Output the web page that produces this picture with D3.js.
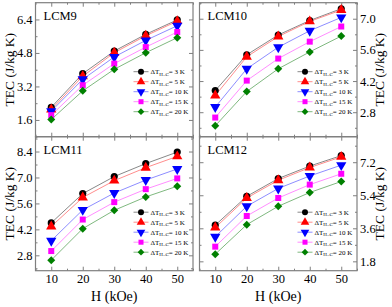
<!DOCTYPE html>
<html>
<head>
<meta charset="utf-8">
<script src="https://cdn.jsdelivr.net/npm/d3@7"></script>
<style>
  body { margin: 0; background: #fff; }
  text { font-family: "Liberation Serif", "Times New Roman", serif; fill: #000; }
</style>
</head>
<body>
<div id="chart"></div>
<script>
let width = 392;
let height = 307;

////////////////////////////////
//   Data
////////////////////////////////
let fields = [10, 20, 30, 40, 50];
let deltaT = [3, 5, 10, 15, 20];

let lcm9 = [
  [2.20, 3.81, 4.89, 5.69, 6.38],
  [2.10, 3.69, 4.81, 5.62, 6.32],
  [2.02, 3.54, 4.61, 5.40, 6.10],
  [1.83, 3.26, 4.29, 5.08, 5.80],
  [1.62, 2.99, 4.02, 4.81, 5.53]
];
let lcm10 = [
  [3.77, 5.38, 6.27, 6.92, 7.45],
  [3.55, 5.29, 6.20, 6.88, 7.39],
  [3.03, 4.75, 5.72, 6.46, 7.06],
  [2.56, 4.22, 5.21, 5.97, 6.65],
  [2.19, 3.73, 4.75, 5.51, 6.22]
];
let lcm11 = [
  [4.55, 6.13, 7.05, 7.75, 8.37],
  [4.36, 5.92, 6.83, 7.53, 8.14],
  [3.59, 5.25, 6.16, 6.86, 7.46],
  [3.03, 4.73, 5.67, 6.37, 6.95],
  [2.54, 4.24, 5.23, 5.95, 6.53]
];
let lcm12 = [
  [3.77, 5.34, 6.31, 6.99, 7.56],
  [3.64, 5.25, 6.22, 6.91, 7.49],
  [3.14, 4.80, 5.77, 6.45, 7.04],
  [2.60, 4.27, 5.25, 5.98, 6.57],
  [2.19, 3.80, 4.80, 5.55, 6.15]
];

let yTicks9 = [1.6, 3.2, 4.8, 6.4];
let yTicks10 = [2.8, 4.2, 5.6, 7.0];
let yTicks11 = [2.8, 4.2, 5.6, 7.0, 8.4];
let yTicks12 = [1.8, 3.6, 5.4, 7.2];

let colors = ["#000000", "#ff0000", "#0000ff", "#ff00ff", "#008000"];
let lineColors = ["#7a7a7a", "#ff8080", "#8080ff", "#ff80ff", "#70b070"];

////////////////////////////////
//   Panel layout
////////////////////////////////
let panels = [
  {name: "LCM9",  data: lcm9,  ticks: yTicks9,  minor: 0.8, domain: [0.8, 7.2],  x0: 35.5,  y0: 2.7,   side: "left",  bottom: false, legY: 69},
  {name: "LCM10", data: lcm10, ticks: yTicks10, minor: 0.7, domain: [1.7, 7.72], x0: 199.5, y0: 2.7,   side: "right", bottom: false, legY: 69},
  {name: "LCM11", data: lcm11, ticks: yTicks11, minor: 0.7, domain: [1.97, 9.2], x0: 35.5,  y0: 136.7, side: "left",  bottom: true,  legY: 75.5},
  {name: "LCM12", data: lcm12, ticks: yTicks12, minor: 0.9, domain: [1.29, 8.59], x0: 199.5, y0: 136.7, side: "right", bottom: true,  legY: 75.5}
];
let pw = 157.5;
let ph = 134;

let svg = d3.select("#chart")
  .append("svg")
  .attr("width", width)
  .attr("height", height);

function symbolFor(i, size) {
  if (i == 0) return {path: d3.symbol(d3.symbolCircle, size * 1.0)(), rot: 0};
  if (i == 1) return {path: d3.symbol(d3.symbolTriangle, size * 1.15)(), rot: 0};
  if (i == 2) return {path: d3.symbol(d3.symbolTriangle, size * 1.15)(), rot: 180};
  if (i == 3) return {path: d3.symbol(d3.symbolSquare, size * 0.9)(), rot: 0};
  return {path: d3.symbol(d3.symbolSquare, size * 0.8)(), rot: 45};
}

let fmt = d3.format(".1f");

panels.forEach(function(p) {
  let g = svg.append("g").attr("transform", "translate(" + p.x0 + "," + p.y0 + ")");
  let x = d3.scaleLinear().domain([5, 55]).range([0, pw]);
  let y = d3.scaleLinear().domain(p.domain).range([ph, 0]);

  let minorX = d3.range(5, 56, 5).filter(v => v % 10 != 0);
  let minorY = d3.range(Math.ceil(p.domain[0] / p.minor) * p.minor, p.domain[1], p.minor)
    .filter(v => !p.ticks.some(t => Math.abs(t - v) < 1e-6));

  // inward ticks on all four sides
  g.append("g").attr("transform", "translate(0," + ph + ")")
    .call(d3.axisBottom(x).tickValues(fields).tickSize(-4).tickFormat(p.bottom ? d3.format("d") : ""));
  g.append("g").attr("transform", "translate(0," + ph + ")")
    .call(d3.axisBottom(x).tickValues(minorX).tickSize(-2).tickFormat(""));
  g.append("g")
    .call(d3.axisTop(x).tickValues(fields).tickSize(-4).tickFormat(""));
  g.append("g")
    .call(d3.axisTop(x).tickValues(minorX).tickSize(-2).tickFormat(""));

  g.append("g")
    .call(d3.axisLeft(y).tickValues(p.ticks).tickSize(-4).tickFormat(p.side == "left" ? fmt : ""));
  g.append("g")
    .call(d3.axisLeft(y).tickValues(minorY).tickSize(-2).tickFormat(""));
  g.append("g").attr("transform", "translate(" + pw + ",0)")
    .call(d3.axisRight(y).tickValues(p.ticks).tickSize(-4).tickFormat(p.side == "right" ? fmt : ""));
  g.append("g").attr("transform", "translate(" + pw + ",0)")
    .call(d3.axisRight(y).tickValues(minorY).tickSize(-2).tickFormat(""));

  g.selectAll(".domain").remove();
  g.selectAll(".tick line").attr("stroke", "#7f7f7f").attr("stroke-width", 1);
  g.selectAll(".tick text").attr("font-size", "12.5px").attr("font-family", "Liberation Serif").attr("fill", "#000");
  g.selectAll(".tick text").each(function() {
    let t = d3.select(this);
    if (t.attr("x") != null && +t.attr("x") < 0) t.attr("x", -3);
    if (t.attr("x") != null && +t.attr("x") > 0) t.attr("x", 3);
  });

  // frame
  g.append("rect")
    .attr("width", pw).attr("height", ph)
    .attr("fill", "none")
    .attr("stroke", "#7f7f7f")
    .attr("stroke-width", 1.2);

  // panel label
  g.append("text")
    .attr("x", 8).attr("y", 17)
    .attr("font-size", "12.5px")
    .text(p.name);

  // series
  let line = d3.line().x((d, i) => x(fields[i])).y(d => y(d));
  p.data.forEach(function(series, s) {
    g.append("path")
      .datum(series)
      .attr("d", line)
      .attr("fill", "none")
      .attr("stroke", lineColors[s])
      .attr("stroke-width", 0.9);
  });
  p.data.forEach(function(series, s) {
    let sym = symbolFor(s, 40);
    g.append("g").selectAll("path")
      .data(series)
      .enter()
      .append("path")
        .attr("d", sym.path)
        .attr("transform", (d, i) => "translate(" + x(fields[i]) + "," + y(d) + ") rotate(" + sym.rot + ")")
        .attr("fill", colors[s]);
  });

  // legend
  let leg = g.append("g").attr("transform", "translate(98," + p.legY + ")");
  deltaT.forEach(function(dt, s) {
    let row = leg.append("g").attr("transform", "translate(0," + (s * 10) + ")");
    row.append("line")
      .attr("x1", 0).attr("x2", 15)
      .attr("stroke", lineColors[s])
      .attr("stroke-width", 0.9);
    let sym = symbolFor(s, 28);
    row.append("path")
      .attr("d", sym.path)
      .attr("transform", "translate(7.5,0) rotate(" + sym.rot + ")")
      .attr("fill", colors[s]);
    let t = row.append("text")
      .attr("x", 17).attr("y", 2.5)
      .attr("font-size", "7px");
    t.append("tspan").text("\u0394T");
    t.append("tspan").attr("font-size", "5px").attr("dy", 1.5).text("H\u2013C");
    t.append("tspan").attr("dy", -1.5).text("= " + dt + " K");
  });

  // axis titles
  if (p.bottom) {
    g.append("text")
      .attr("x", pw / 2).attr("y", ph + 30)
      .attr("text-anchor", "middle")
      .attr("font-size", "14px")
      .text("H (kOe)");
  }
  if (p.side == "left") {
    g.append("text")
      .attr("transform", "translate(" + (-22) + "," + (ph / 2) + ") rotate(-90)")
      .attr("text-anchor", "middle")
      .attr("font-size", "13.5px")
      .text("TEC (J/kg K)");
  } else {
    g.append("text")
      .attr("transform", "translate(" + (pw + 27) + "," + (ph / 2) + ") rotate(-90)")
      .attr("text-anchor", "middle")
      .attr("font-size", "13.5px")
      .text("TEC (J/kg K)");
  }
});
</script>
</body>
</html>
